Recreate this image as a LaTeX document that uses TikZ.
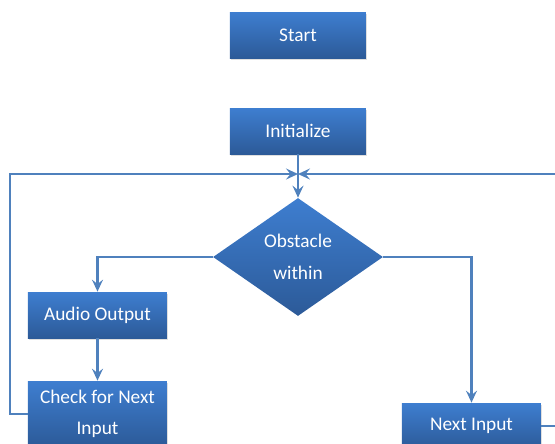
\documentclass[tikz,border=0pt]{standalone}
\usepackage{fontspec}
\setmainfont{Carlito}
\usetikzlibrary{arrows.meta, positioning, calc, shapes.geometric, shadows}
\definecolor{boxtop}{RGB}{62,126,208}
\definecolor{boxbot}{RGB}{44,90,152}
\definecolor{flowline}{RGB}{79,129,189}
\tikzset{
    box/.style={rectangle, top color=boxtop, bottom color=boxbot, draw=none, text=white,
        minimum width=2.72cm, minimum height=0.92cm, inner sep=2pt, align=center,
        font=\fontsize{11}{18}\selectfont,
        drop shadow={shadow xshift=0.4pt, shadow yshift=-1pt, opacity=0.25}},
    decision/.style={diamond, top color=boxtop, bottom color=boxbot, draw=none, text=white,
        minimum width=3.4cm, minimum height=2.36cm, inner sep=0pt, aspect=1.44, align=center,
        font=\fontsize{11}{18}\selectfont},
    flow/.style={-{Stealth[length=2.4mm, width=2.2mm, inset=0.9mm]}, flowline, line width=1.2pt},
    link/.style={flowline, line width=1.2pt}
}
\begin{document}
\begin{tikzpicture}
    \useasboundingbox (0,0) rectangle (11.1,-8.88);
    \clip (0,0) rectangle (11.1,-8.88);

    % Boxes
    \node[box] (start) at (5.96,-0.70) {Start};
    \node[box] (init) at (5.96,-2.62) {Initialize};
    \node[decision] (obst) at (5.96,-5.14) {Obstacle\\within};
    \node[box, minimum width=2.78cm] (audio) at (1.95,-6.30) {Audio Output};
    \node[box, minimum width=2.78cm, minimum height=1.32cm] (check) at (1.95,-8.28) {Check for Next\\Input};
    \node[box, minimum width=2.78cm] (next) at (9.43,-8.52) {Next Input};

    % Junction above the decision
    \coordinate (join) at (5.96,-3.48);
    \coordinate (lcorner) at (0.2,-3.48);
    \coordinate (rcorner) at (11.4,-3.48);

    % Main line
    \draw[flow] (init.south) -- (obst.north);
    \draw[flow] (obst.west) -| (audio.north);
    \draw[flow] (obst.east) -| (next.north);
    \draw[flow] (audio) -- (check);

    % Loops back
    \draw[flow] (check.west) -| (lcorner) -- (join);
    \draw[flow] (next.east) -| (rcorner) -- (join);
\end{tikzpicture}
\end{document}
